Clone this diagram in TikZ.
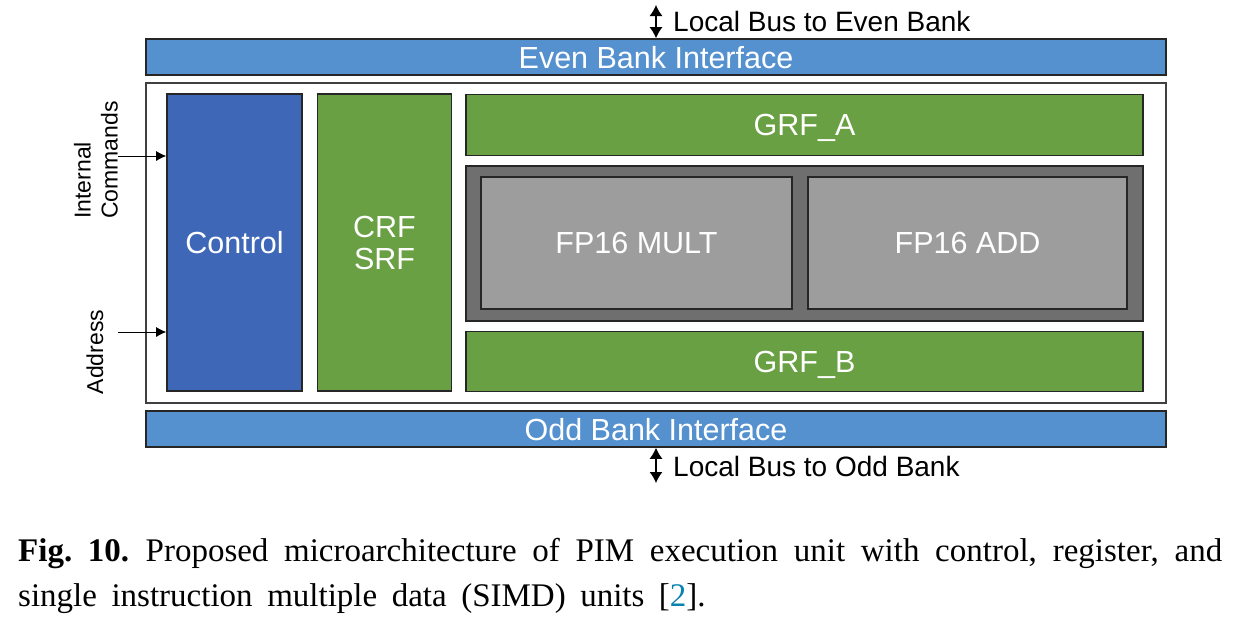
\documentclass[tikz,border=0pt]{standalone}
\usepackage{fontspec}
\setmainfont{Liberation Sans}
\newfontfamily\capfont{Liberation Serif}
\usetikzlibrary{arrows.meta}
\definecolor{ifblue}{HTML}{5591CF}
\definecolor{ctlblue}{HTML}{3F67B8}
\definecolor{rfgreen}{HTML}{69A043}
\definecolor{alugray}{HTML}{6F6F6F}
\definecolor{fpgray}{HTML}{9D9D9D}
\definecolor{citeblue}{HTML}{0A82AE}
\tikzset{
  box/.style={draw=black!85, line width=1.6pt, inner sep=0pt, text=white,
    font=\fontsize{30.5}{34}\selectfont},
  ifbox/.style={box, fill=ifblue, text depth=0pt},
  ctlbox/.style={box, fill=ctlblue, text depth=0pt},
  rfbox/.style={box, fill=rfgreen, align=center},
  grfbox/.style={box, fill=rfgreen, text depth=0pt},
  alubox/.style={box, fill=alugray},
  fpbox/.style={box, fill=fpgray, text depth=0pt},
  lbl/.style={text=black, inner sep=0pt, font=\fontsize{28}{30}\selectfont},
  sidelbl/.style={text=black, inner sep=0pt, font=\fontsize{23}{27}\selectfont},
  inarrow/.style={-{Latex[length=10pt,width=10pt]}, line width=0.8pt, black},
  busarrow/.style={{Latex[length=11pt,width=13pt]}-{Latex[length=11pt,width=13pt]}, line width=1.2pt, black}
}
\begin{document}
\begin{tikzpicture}[x=1pt,y=-1pt]
\useasboundingbox (0,0) rectangle (1234,624);
% outer unit box
\node[draw=black!75, line width=1.2pt, fill=white, minimum width=1020pt, minimum height=320pt, inner sep=0pt] (unit) at (656,243) {};
% interfaces
\node[ifbox, minimum width=1020pt, minimum height=36pt] (even) at (656,57) {Even Bank Interface};
\node[ifbox, minimum width=1020pt, minimum height=36pt] (odd) at (656,429) {Odd Bank Interface};
% control and register files
\node[ctlbox, minimum width=135pt, minimum height=297pt] (ctl) at (234.5,242.5) {Control};
\node[rfbox, minimum width=134pt, minimum height=297pt] (crf) at (384.5,242.5) {CRF\\[-2pt]SRF};
\node[grfbox, minimum width=677pt, minimum height=61pt] (grfa) at (804.5,125) {GRF\_A};
\node[grfbox, minimum width=677pt, minimum height=60pt] (grfb) at (804.5,361.5) {GRF\_B};
% SIMD unit
\node[alubox, minimum width=677pt, minimum height=155pt] (simd) at (804.5,243.5) {};
\node[fpbox, minimum width=311pt, minimum height=132pt] (mult) at (636.5,243) {FP16 MULT};
\node[fpbox, minimum width=319pt, minimum height=132pt] (add) at (967.5,243) {FP16 ADD};
% local buses
\coordinate (evtop) at (656,5);
\draw[busarrow] (evtop) -- (even.north);
\node[lbl, anchor=west] (evlbl) at (673,21) {Local Bus to Even Bank};
\coordinate (odbot) at (656,483);
\draw[busarrow] (odd.south) -- (odbot);
\node[lbl, anchor=west] (odlbl) at (673,466) {Local Bus to Odd Bank};
% side inputs
\node[sidelbl, rotate=90, align=left, anchor=west] (cmdlbl) at (96,219) {Internal\\Commands};
\node[sidelbl, rotate=90] (addrlbl) at (95,352) {Address};
\coordinate (cmdin) at (118,156);
\coordinate (addrin) at (118,332);
\draw[inarrow] (cmdin) -- (cmdin -| ctl.west);
\draw[inarrow] (addrin) -- (addrin -| ctl.west);
% caption
\node[anchor=north west, inner sep=0pt, text width=1204pt, align=justify,
  font=\capfont\fontsize{33}{45}\selectfont] (cap) at (18,538)
  {\spaceskip=0.44em plus 0.5em minus 0.05em\xspaceskip=\spaceskip
   \textbf{Fig.~10.}\enspace Proposed microarchitecture of PIM execution unit with control, register, and\linebreak single instruction multiple data (SIMD) units [\textcolor{citeblue}{2}].};
\end{tikzpicture}
\end{document}
